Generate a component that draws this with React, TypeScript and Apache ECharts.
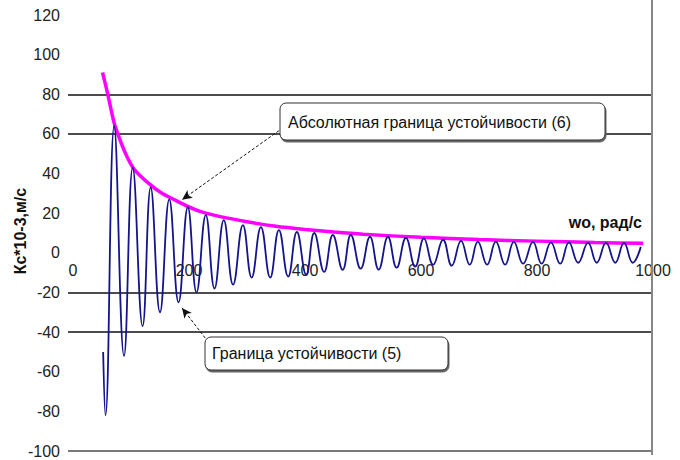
import React, { useEffect, useRef } from "react";
import * as echarts from "echarts";

// Oscillating stability boundary (5): extrema
const blueW = [52, 56, 71, 88, 103, 120, 134, 150, 166, 182, 198, 213, 229, 244, 260, 276, 293, 308, 324, 340, 355, 371, 386, 402, 416, 433, 448, 465, 479, 496, 512, 527, 543, 558, 574, 590, 605, 621, 638, 653, 669, 684, 698, 714, 729, 745, 760, 776, 793, 808, 824, 840, 855, 871, 888, 903, 919, 935, 950, 965, 979];
const blueV = [-50, -82, 64, -52, 43, -37, 33, -30, 27, -25, 23, -20, 19, -18, 16.5, -16, 14, -12.5, 13, -12.5, 11.5, -12, 10.5, -11, 10, -9.6, 9, -8.6, 9, -8, 8, -8.5, 8, -7.5, 7.5, -7, 7.3, -6, 6.6, -6.5, 6, -6, 5.6, -6, 5.6, -6, 5.5, -5.5, 5.5, -5.5, 5.3, -5.5, 5.3, -5, 5, -5, 5, -5, 5, -5, 3];

// Absolute stability boundary (6)
const envW = [51, 60, 71, 83, 94, 106, 129, 152, 175, 198, 219, 250, 300, 350, 400, 450, 500, 600, 700, 800, 900, 983];
const envV = [91, 80, 65.5, 55.5, 48, 42, 35.4, 30.3, 26.8, 23.4, 20.9, 18.5, 15.7, 13.4, 11.8, 10.5, 9.4, 7.8, 6.7, 5.9, 5.2, 4.8];

const xTicks = [0, 200, 400, 600, 800, 1000];
const yTicks = [-100, -80, -60, -40, -20, 0, 20, 40, 60, 80, 100, 120];
const blackGridLines = [80, 60, -20, -40];
const grayGridLine = -100;

const label1 = "Абсолютная граница устойчивости (6)";
const label2 = "Граница устойчивости (5)";
const yName = "Кс*10-3,м/с";
const xName = "wo, рад/с";

const FONT = "'Liberation Sans', Arial, sans-serif";

const GRID_TOP = 15;
const GRID_BOTTOM = 9;
const PLOT_H = 460 - GRID_TOP - GRID_BOTTOM;

export default function App() {
  const ref = useRef<HTMLDivElement>(null);
  useEffect(() => {
    if (!ref.current) return;
    const chart = echarts.init(ref.current, null, { renderer: "svg" });
    const blueData = blueW.map((w, i) => [w, blueV[i]]);
    const envData = envW.map((w, i) => [w, envV[i]]);
    const yMin = -100;
    const yMax = 120;
    const xMin = -8.6;
    const xMax = 1000;
    const zeroOffset = -(PLOT_H * (0 - yMin)) / (yMax - yMin);
    const splitColors = yTicks.map((v) => (blackGridLines.includes(v) ? "#111" : "rgba(0,0,0,0)"));
    chart.setOption({
      animation: false,
      backgroundColor: "#ffffff",
      grid: {
        left: 68,
        right: 27,
        top: GRID_TOP,
        bottom: GRID_BOTTOM,
        containLabel: false,
        outerBoundsMode: "none",
      },
      xAxis: {
        type: "value",
        min: xMin,
        max: xMax,
        position: "bottom",
        offset: zeroOffset,
        axisLine: { show: false, onZero: false },
        axisTick: { show: false },
        splitLine: { show: false },
        axisLabel: {
          customValues: xTicks,
          fontSize: 16,
          color: "#222",
          fontFamily: FONT,
          margin: 10,
          formatter: (v: number) => String(v),
        },
      },
      yAxis: {
        type: "value",
        min: yMin,
        max: yMax,
        interval: 20,
        axisLine: { show: false },
        axisTick: { show: false },
        splitLine: {
          show: true,
          lineStyle: { color: splitColors, width: 1.6 },
        },
        axisLabel: { fontSize: 16, color: "#222", fontFamily: FONT, margin: 8 },
      },
      series: [
        {
          type: "line",
          data: envData,
          smooth: 0.3,
          showSymbol: false,
          lineStyle: { color: "#ff00ff", width: 3.5 },
          z: 2,
        },
        {
          type: "line",
          data: blueData,
          smooth: 0.45,
          showSymbol: false,
          lineStyle: { color: "#14148c", width: 1.8 },
          z: 3,
          markLine: {
            silent: true,
            symbol: ["none", "arrow"],
            symbolSize: [7, 10],
            label: { show: false },
            lineStyle: { color: "#111", width: 1, type: [3, 2] },
            data: [
              [{ coord: [355, 61.6] }, { coord: [188, 26.8] }],
              [{ coord: [228, -43] }, { coord: [188, -27.8] }],
            ],
          },
        },
      ],
      graphic: [
        { id: "rightBorder", type: "line", z: 50, shape: { x1: 652, y1: 0, x2: 652, y2: 455 }, style: { stroke: "#888", lineWidth: 2 } },
        {
          id: "yName",
          type: "text",
          z: 50,
          x: 20,
          y: 231,
          rotation: Math.PI / 2,
          style: { text: yName, align: "center", verticalAlign: "middle", font: `bold 16px ${FONT}`, fill: "#111" },
        },
        {
          id: "xName",
          type: "text",
          z: 50,
          x: 642,
          y: 222,
          style: { text: xName, align: "right", verticalAlign: "middle", font: `bold 16px ${FONT}`, fill: "#111" },
        },
        { id: "b1s", type: "rect", z: 60, shape: { x: 281, y: 105, width: 325, height: 37, r: 6 }, style: { fill: "#666", stroke: "#666" } },
        { id: "b1", type: "rect", z: 61, shape: { x: 280, y: 103, width: 325, height: 37, r: 6 }, style: { fill: "#fff", stroke: "#333", lineWidth: 1 } },
        {
          id: "t1",
          type: "text",
          z: 62,
          x: 288,
          y: 122,
          style: { text: label1, verticalAlign: "middle", font: `16px ${FONT}`, fill: "#111" },
        },
        { id: "b2s", type: "rect", z: 60, shape: { x: 206, y: 339, width: 243, height: 33, r: 6 }, style: { fill: "#666", stroke: "#666" } },
        { id: "b2", type: "rect", z: 61, shape: { x: 205, y: 337, width: 243, height: 33, r: 6 }, style: { fill: "#fff", stroke: "#333", lineWidth: 1 } },
        {
          id: "t2",
          type: "text",
          z: 62,
          x: 212,
          y: 353,
          style: { text: label2, verticalAlign: "middle", font: `16px ${FONT}`, fill: "#111" },
        },
      ],
    });
    // bottom grey line at -100, positioned through the axes' own scales
    const yb = chart.convertToPixel({ yAxisIndex: 0 }, grayGridLine) as number;
    const xl = chart.convertToPixel({ xAxisIndex: 0 }, xMin) as number;
    const xr = chart.convertToPixel({ xAxisIndex: 0 }, xMax) as number;
    chart.setOption({
      graphic: [
        {
          id: "bottomLine",
          type: "line",
          z: 40,
          shape: { x1: xl, y1: yb, x2: xr, y2: yb },
          style: { stroke: "#7a7a7a", lineWidth: 2 },
        },
      ],
    });
    return () => chart.dispose();
  }, []);
  return (
    <div
      ref={ref}
      style={{ position: "fixed", left: 0, top: 0, width: 680, height: 460, background: "#fff" }}
    />
  );
}
